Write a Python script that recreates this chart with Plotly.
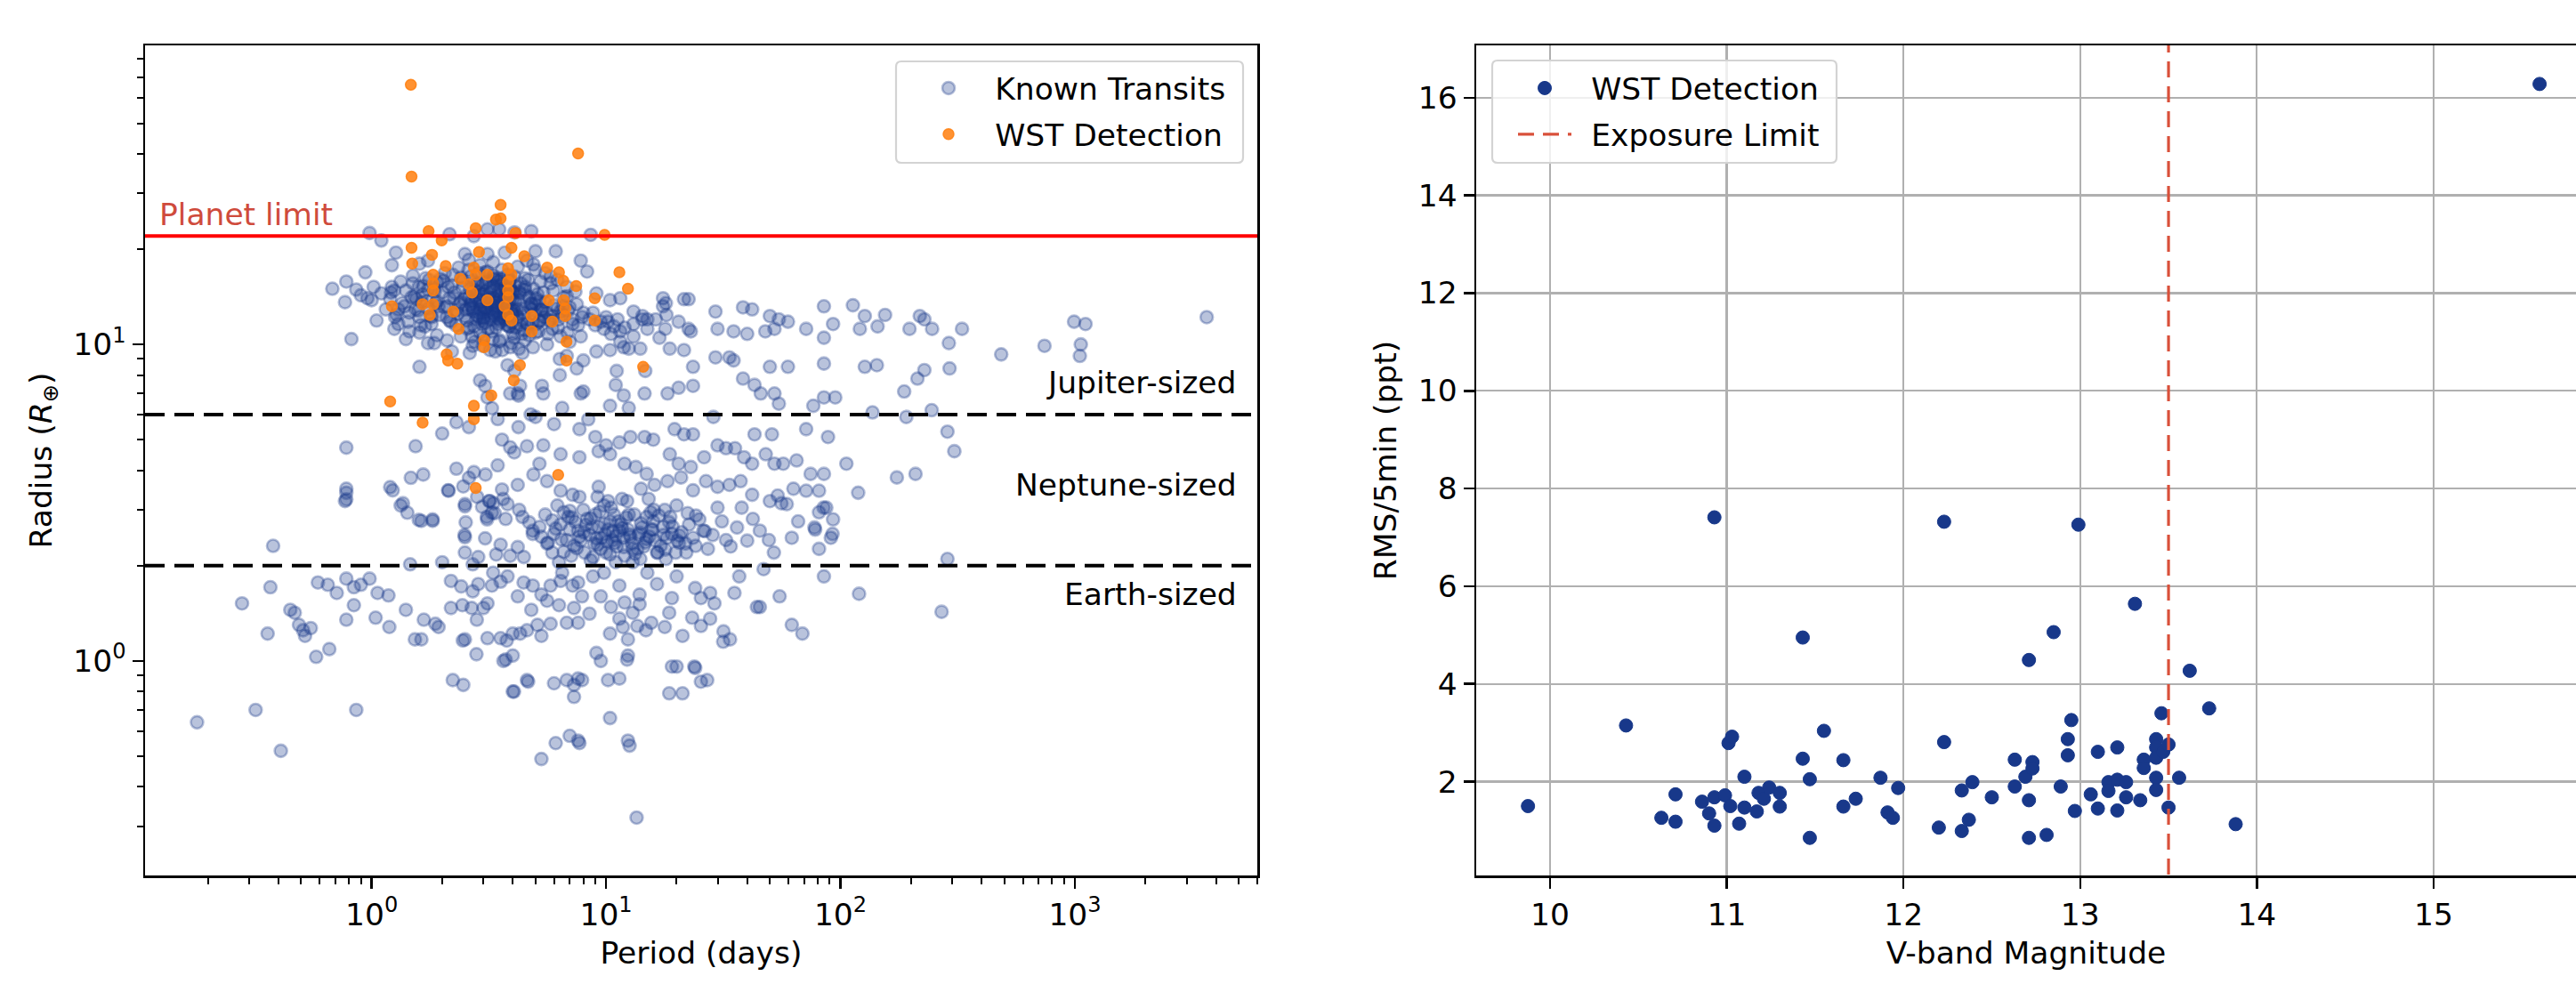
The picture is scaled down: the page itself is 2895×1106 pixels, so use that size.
import math
import plotly.graph_objects as go

# ---------------- DATA ----------------
# Left panel: known transiting planets, grouped by region of the diagram
known_period_small = [0.18,0.32,0.41,0.86,0.28,0.37,0.36,0.38,
    0.45,0.47,0.49,0.52,0.55,0.51,0.58,0.66,
    0.59,0.65,0.71,0.78,0.84,0.90,0.98,1.06,1.18,
    0.84,0.78,1.04,1.19,1.40,1.53,1.63,1.93,1.67,1.87,
    2.18,2.41,2.70,2.85,3.12,2.18,2.44,2.67,2.81,3.00,
    2.50,2.80,2.45,2.22,2.46,
    3.12,3.55,3.77,4.00,4.30,4.60,5.30,5.10,5.60,5.80,6.80,7.30,7.60,
    3.73,4.00,3.65,
    4.00,4.60,6.00,6.80,7.30,7.90,7.30,7.60,
    10.2,11.4,12.4,12.4,10.4,9.5,9.1,8.5,
    10.4,6.1,7.0,7.6,12.4,5.3,13.5,
    11.4,13.6,14.8,17.8,21.2,23.3,25.4,27.8,31.7,33.8,45.3,68.8,
    19.1,23.8,25.4,27.0,18.6,21.2,
    12.0,13.0,15.6,18.6,19.1,25.4,27.8,35.3,
    13.9,13.9,11.4,9.5,7.9,7.6,7.2,6.4,5.8,4.87,4.45,3.55,3.26,
    120,270,4.05,4.65,7.7,12.6,12.3,20.0,24,31.6,44,
    3.3,3.8,4.2,4.8,5.3,6.3,6.5,8.8,9.8,10.5,11.8,15,16.5,20,24,29,37,47,55,62,85]
known_radius_small = [0.64,0.70,0.52,0.70,1.52,1.71,1.22,2.31,
    1.45,1.42,1.30,1.20,1.27,1.25,1.03,1.09,
    1.77,1.74,1.64,1.82,1.71,1.74,1.82,1.64,1.61,
    1.50,1.35,1.37,1.28,1.45,1.17,1.17,1.28,1.35,1.31,
    1.79,1.72,1.66,1.75,1.52,1.47,1.50,1.47,1.35,1.47,
    1.17,1.05,1.16,0.87,0.84,
    1.18,1.18,1.16,1.22,1.22,1.25,1.20,1.30,1.55,1.31,1.32,1.47,1.32,
    1.01,1.04,1.00,
    0.80,0.87,0.85,0.87,0.84,0.87,0.77,0.88,
    0.87,0.88,1.17,1.04,1.22,1.00,1.06,1.41,
    0.66,0.55,0.58,0.56,0.56,0.49,0.32,
    1.36,1.29,1.25,1.28,1.20,1.37,1.29,1.36,1.24,1.17,1.48,1.22,
    0.96,0.96,0.86,0.87,0.79,0.79,
    1.53,1.42,1.32,1.42,1.58,1.58,1.64,1.64,
    1.62,1.51,1.73,1.60,1.60,1.77,1.73,1.79,1.73,1.73,1.77,1.78,1.73,
    1.63,1.43,0.80,0.86,0.55,0.54,1.01,0.96,0.95,1.15,1.48,
    1.90,1.85,1.60,1.45,1.62,1.50,1.90,1.85,1.90,1.48,1.28,1.90,1.75,1.85,1.70,1.52,1.85,1.95,1.60,1.30,1.85]

known_period_subnep_short = [0.78,0.78,0.78,1.2,1.23,1.36,1.42,1.63,1.82,1.66,2.12,2.5,2.82,3.26,3.31,
    2.0,2.3,2.6,3.26,3.45,4.23,4.77,3.6,3.9,4.23,
    2.3,2.6,3.06,3.45,4.06,4.6,1.54,1.47,
    2.13,2.46,2.73,3.17,3.6,4.2,4.9,3.35,2.96,2.52,2.49,3.1,3.8,4.4,
    0.77,0.78,1.33,1.59,1.82,
    2.5,3.19,3.64,4.26,2.5,3.05,3.11,3.55,3.73,4.2,4.7,4.87,
    2.5,2.85,3.4,3.9,4.46,1.46,2.0,2.7]
known_radius_subnep_short = [4.72,3.5,3.24,3.54,3.46,3.15,2.94,2.77,2.77,3.88,3.46,3.08,3.3,2.94,3.15,
    5.23,5.68,5.48,6.29,5.81,6.89,6.01,5.0,4.73,5.48,
    4.05,3.79,3.88,4.15,4.56,4.77,4.77,3.79,
    3.45,3.56,3.95,3.2,3.48,3.6,3.88,2.93,3.07,2.74,2.5,2.85,3.13,2.85,
    3.2,3.4,3.1,2.79,2.8,
    3.13,3.2,3.25,3.0,2.46,2.44,2.8,2.33,2.81,2.29,2.74,2.52,
    2.2,2.13,2.17,2.15,2.13,2.02,2.05,2.02]

known_period_subnep_cluster = [4.87,5.3,5.65,6.0,6.4,6.8,7.3,7.6,8.3,8.7,9.1,9.5,9.9,10.4,10.9,11.4,12.2,12.7,13.6,14.2,
    15.3,15.9,17.1,17.8,19.1,20.5,22.6,24.2,26.0,27.2,29.9,31.2,32.5,36.2,37.9,42.3,45.3,49.5,54,59,66,77.5,81,92.5,84.7,
    5.5,5.9,6.2,6.6,7.0,7.1,7.4,7.8,8.0,8.1,8.5,8.9,9.0,9.3,9.6,9.8,10.0,10.2,10.6,10.8,
    11.1,11.6,11.9,12.0,12.4,12.9,13.2,13.8,14.5,14.9,15.6,16.2,16.6,17.5,18.2,18.8,19.8,21.0,21.8,23.5,
    25.0,6.3,8.6,11.0,14.0,18.0,9.2,7.2,12.3,15.2,20.0,5.2,6.9,10.5,13.0,16.0,22.0,28.5,34,40,52,62]
known_radius_subnep_cluster = [2.58,2.47,2.36,2.52,2.7,2.41,2.31,2.58,2.81,2.64,2.44,2.26,2.52,2.76,2.36,2.58,2.84,2.47,2.26,2.64,
    2.47,2.76,2.31,3.0,2.52,2.36,2.7,2.88,2.58,2.26,3.05,2.76,2.41,2.64,3.05,2.81,2.58,2.41,3.33,3.13,2.76,2.64,2.26,2.52,3.05,
    2.9,2.2,3.1,2.95,2.6,2.15,2.75,2.4,3.0,2.2,2.5,2.35,2.9,2.65,2.45,3.1,2.2,2.6,2.4,2.9,
    2.3,2.7,2.45,2.15,2.6,2.35,2.9,2.5,2.3,2.85,2.6,2.4,2.2,2.65,2.45,2.85,2.2,2.55,2.35,2.45,
    2.8,2.05,2.08,2.05,2.1,2.1,3.3,3.35,3.2,3.25,3.1,2.65,2.85,3.05,2.05,3.0,2.2,2.5,2.3,2.4,2.2,2.45]

known_period_subnep_core = [5.6,6.1,6.6,7.15,7.7,8.2,8.8,9.4,10.1,10.7,11.3,11.9,12.6,13.3,14.1,14.9,15.8,16.8,17.9,19.2,
    20.6,22.3,24.1,26.4,5.9,6.45,7.0,7.5,8.05,8.6,9.2,9.85,10.4,11.0,11.7,12.5,13.0,13.9,14.7,15.5,16.5,17.6,18.6,20.1]
known_radius_subnep_core = [2.35,2.62,2.21,2.84,2.47,2.69,2.13,2.96,2.38,2.57,2.76,2.29,2.51,2.18,2.72,2.43,2.6,2.88,2.25,2.66,
    2.49,2.93,2.31,2.57,2.78,2.42,2.98,2.27,2.55,2.82,2.33,2.71,2.17,2.48,2.63,2.9,2.26,2.54,2.37,2.95,2.2,2.5,2.74,2.4]

known_period_neptune = [7.7,9.0,10.0,11.4,12.7,14.6,15.9,19.6,21.5,23.5,43,51,71.4,88.5,
    5.4,6.4,7.7,9.3,10.4,12.0,13.4,14.9,18.7,20.4,23.0,26.2,29.9,32.5,35.5,38.8,42,48,52.3,57,65,74.6,85,106,
    174,209,119,306,
    5.6,6.4,7.7,9.3,10.2,11.7,14.1,16.1,18.3,20.9,23.5,26.7,29.9,33.6,37.5,42,50,56,63,71.4,81,87,81,93,78,91,286,
    5.0,6.0,8.4,5.2]
known_radius_neptune = [5.4,5.1,4.8,4.9,5.1,5.1,5.0,5.4,5.2,5.2,5.2,5.2,5.4,5.1,
    4.8,4.5,4.4,4.6,4.5,4.2,4.1,3.9,4.5,4.2,4.1,4.4,4.8,4.7,4.7,4.4,4.2,4.5,4.2,4.2,4.3,3.9,3.9,4.2,
    3.8,3.9,3.4,4.6,
    3.7,3.45,3.3,3.55,3.2,3.25,3.5,3.6,3.7,3.8,3.46,3.7,3.55,3.6,3.7,3.35,3.2,3.15,3.5,3.45,3.45,3.05,2.95,2.8,2.6,2.45,2.1,
    5.9,5.6,5.8,4.2]

known_period_giant_long = [18.0,21.5,22.5,29.3,38.4,42,50,54.6,59.7,85,113,127,155,218,228,992,1110,3650,
    14.3,16.3,20.4,17.9,22.5,23.0,29.9,35,40,47.8,52.3,71.4,85,93,121,144,197,246,330,290,
    485,742,1060,1050,
    12.5,14.0,18.7,21.5,23.5,29.3,33.6,35,50,59.7,85,127,143,213,228,292,
    38.4,43,45.7,52.3,54.6,76.6,85,95,137,187,191,245,286,
    11.0,14.6,18.3,20.4,23.5,28.7,12.5,10.4,7.8,6.5,5.4,
    9.1,10.4,11.5,13.1,15.0,17.5,17.5,18.1,14.3,13.1,11.5,10.2,11.5,13.1,15.0,16.9,
    3.8,4.07,2.9,3.05,3.12,3.9,4.3,5.33,6.35,6.8,7.5,8.0,9.1,10.4,11.9,4.2,6.35,8.0,11.9,14.7,11.1,
    8.5,9.0,9.5,10.0,10.8,11.2,12.0,9.8,10.5,8.8]
known_radius_giant_long = [13.5,13.9,13.9,12.7,13.1,12.9,12.3,12.0,11.8,13.2,13.3,12.3,12.4,12.3,12.0,11.8,11.6,12.2,
    12.0,12.0,11.8,11.2,11.2,11.0,11.2,11.0,10.8,11.0,11.2,11.2,10.5,11.6,11.2,11.4,11.2,11.2,11.2,10.1,
    9.3,9.9,10.0,9.2,
    9.7,9.7,9.7,9.6,8.5,9.1,9.1,8.9,8.5,8.5,8.7,8.5,8.6,7.8,8.3,8.4,
    7.8,7.45,7.0,7.0,6.5,6.4,6.8,6.8,6.1,7.1,5.9,6.2,5.3,
    7.45,7.0,7.0,7.3,7.4,5.9,6.3,6.4,7.0,6.3,7.0,
    14.5,13.8,14.0,12.7,12.0,14.0,13.2,12.4,12.3,11.6,11.0,11.8,10.2,10.6,11.2,10.5,
    8.6,8.25,7.7,7.4,6.8,7.0,7.4,7.4,9.0,9.2,8.4,8.9,9.5,9.6,9.8,7.0,8.0,7.1,6.9,8.25,8.25,
    12.0,11.5,11.8,12.2,11.4,12.0,11.3,11.2,10.8,12.6]

known_period_hotjup = [0.98,1.1,1.27,1.22,0.94,0.78,0.86,0.96,1.02,0.68,0.77,0.82,1.6,1.74,1.85,1.4,1.22,1.26,1.3,1.5,
    1.6,1.74,2.15,2.73,3.12,3.5,4.07,4.8,6.1,8.6,7.8,8.3,2.5,3.12,3.7,5.0,4.9,
    1.35,1.4,1.45,1.5,1.55,1.6,1.65,1.7,1.75,1.8,1.85,1.9,1.95,2.0,2.05,2.1,2.15,2.2,2.25,2.3,
    2.35,2.4,2.45,2.5,2.55,2.6,2.65,2.7,2.75,2.8,2.85,2.9,2.95,3.0,3.05,3.1,3.15,3.2,3.25,3.3,
    3.35,3.4,3.45,3.5,3.55,3.6,3.65,3.7,3.75,3.8,3.85,3.9,3.95,4.0,4.1,4.2,4.3,4.4,4.5,4.6,
    4.7,4.8,4.9,5.0,5.2,5.4,5.6,5.8,6.0,6.3,6.6,6.9,7.2,7.5,7.9,
    2.9,3.3,3.6,4.2,2.6,4.6,3.0,3.5,4.0,2.4,4.5,5.0,3.2,3.9,2.7,4.4,5.6,
    3.1,3.4,3.7,4.1,3.3,3.8,2.9,4.3,3.5,3.0,3.6,4.0,3.2,2.8,4.5,3.9,3.4,4.8,2.6,5.3,
    1.0,1.1,1.15,1.2,1.25,1.3,0.9,1.05,1.25,1.45,1.6,1.9,2.1,2.2,5.9,6.4,7.0,5.5,6.2,6.8,7.4,5.0]
known_radius_hotjup = [22.5,21.3,19.5,17.8,16.9,15.8,14.9,14.0,15.2,15.0,13.6,10.4,8.5,10.1,10.1,10.4,15.2,12.2,11.6,16.5,
    18.0,18.4,22.3,22.0,23.1,23.1,22.6,22.8,19.7,22.2,18.4,17.0,19.3,19.3,19.5,19.7,17.9,
    13.5,14.8,12.6,15.6,13.9,12.2,14.4,16.2,13.0,11.6,15.0,13.7,12.4,14.6,16.8,13.2,11.9,15.4,14.0,12.8,
    17.5,13.6,15.9,12.3,14.3,11.3,16.4,13.1,14.9,12.0,15.6,13.8,11.6,14.4,16.9,12.7,13.5,15.1,11.0,14.0,
    12.4,16.0,13.2,14.7,11.8,15.5,12.9,14.2,13.6,16.6,11.4,14.9,12.6,13.9,15.3,12.2,14.5,13.0,16.2,11.7,
    14.1,12.9,15.0,13.4,11.9,14.6,12.6,15.6,13.3,12.0,14.1,12.8,11.6,13.4,12.2,
    17.8,18.2,17.2,17.6,18.5,18.4,10.5,10.2,10.8,10.6,10.3,10.9,9.6,9.8,9.9,9.4,10.0,
    13.0,13.9,12.5,13.6,15.3,14.6,12.9,11.5,12.0,12.2,13.4,12.4,14.6,14.0,14.9,16.0,11.3,13.5,13.0,12.9,
    13.8,14.5,12.9,13.9,14.8,12.9,14.3,11.9,11.2,11.0,10.9,10.7,10.3,9.5,11.2,10.6,10.2,16.8,16.0,15.2,14.7,17.2]

known_period_hotjup_core = [2.05,2.12,2.18,2.26,2.33,2.41,2.48,2.56,2.63,2.71,2.78,2.86,2.93,3.01,3.08,3.16,3.24,3.31,3.39,3.47,
    3.54,3.62,3.70,3.78,3.86,3.94,4.03,4.12,4.22,4.33,4.45,4.58,4.72,4.86,5.02,
    2.02,2.09,2.15,2.22,2.29,2.37,2.44,2.52,2.59,2.67,2.74,2.82,2.89,2.97,3.05,3.12,3.2,3.28,3.35,3.43,
    3.51,3.58,3.66,3.74,3.82,3.9,3.98,4.07,4.17,4.27,4.39,4.51,4.65,4.79,4.95,
    2.6,2.7,2.8,2.9,3.0,3.1,3.2,3.3,3.4,3.5,3.6,3.7,3.8,3.9,4.0,2.65,2.75,2.85,2.95,3.05,
    3.15,3.25,3.35,3.45,3.55,3.65,3.75,3.85,3.95,4.05,
    1.52,1.58,1.66,1.72,1.79,1.86,1.93,1.62,1.76,1.9,5.1,5.3,5.5,5.7,5.95,6.2,6.5,6.8,5.25,5.8]
known_radius_hotjup_core = [13.1,15.2,11.8,14.6,12.5,16.3,13.9,11.2,15.0,12.7,14.2,16.8,13.3,11.9,15.7,14.0,12.3,16.5,13.6,11.6,
    15.3,14.8,12.0,13.3,15.9,12.8,14.5,11.3,13.8,15.6,12.6,14.3,13.1,11.8,14.0,
    15.9,12.2,14.0,16.6,11.5,13.4,15.1,12.9,17.2,13.7,11.4,14.7,12.1,15.4,13.0,17.0,14.4,12.6,13.2,15.8,
    12.4,16.1,13.8,14.9,12.3,15.1,11.7,16.4,12.9,14.7,11.9,15.2,16.0,13.4,12.5,
    14.1,12.9,15.5,13.6,12.1,14.8,13.3,16.1,12.7,14.3,13.7,15.2,12.4,13.9,14.6,13.4,15.8,12.6,14.4,13.1,
    15.9,12.9,13.6,16.2,14.0,12.2,15.0,13.5,14.7,12.8,
    14.2,12.8,15.3,13.7,12.3,14.7,13.2,11.5,16.0,15.7,14.4,12.8,13.6,11.9,14.8,13.0,12.4,14.2,15.8,16.4]

known_period_hotjup_lower = [2.55,2.68,2.83,2.98,3.14,3.29,3.44,3.61,3.79,3.97,4.16,4.38,4.61,4.88,5.15,5.45,2.62,2.9,3.22,3.53,
    3.88,4.25,4.7,5.2,2.75,3.05,3.37,3.7,4.05,4.5,
    1.21,1.28,1.33,1.38,1.43,1.48,1.54,1.59,1.64,1.69,1.74,1.81,1.88,1.96,
    5.05,5.35,5.65,5.95,6.25,6.55,6.85,7.2,7.6,8.0,5.2,5.8,6.4,7.0,7.8]
known_radius_hotjup_lower = [11.9,10.6,12.3,9.9,11.2,10.4,12.1,9.6,11.5,10.1,12.4,10.8,11.6,9.8,11.0,12.2,9.4,10.9,12.0,10.3,
    11.4,9.7,10.7,11.8,10.2,11.7,9.5,12.4,10.5,11.1,
    14.6,12.4,15.8,13.2,11.8,14.1,12.9,15.2,13.6,11.4,14.9,12.2,13.5,16.1,
    11.6,12.9,10.8,12.3,11.3,13.2,10.9,12.0,11.5,12.6,13.7,11.9,12.7,13.1,10.6]

# Left panel: WST detections
wst_period = [1.47,1.48,7.6,3.55,3.39,3.55,2.78,1.75,1.99,4.11,
    9.86,1.48,1.81,2.87,3.95,4.48,1.49,2.07,2.73,2.78,
    3.12,3.82,3.95,3.82,3.82,3.82,5.61,6.3,6.57,7.46,
    11.4,12.4,1.83,1.83,2.39,2.6,2.68,1.83,1.65,1.83,
    1.22,1.77,2.23,3.12,3.69,3.82,3.95,4.82,5.7,5.9,
    6.6,6.7,6.7,8.95,8.95,2.35,4.82,3.02,3.02,6.78,
    2.09,2.12,2.32,4.29,6.78,4.04,14.4,3.24,1.2,2.73,
    2.73,1.65,6.25,2.78]
wst_radius = [66.2,33.9,40.1,27.6,24.8,25.0,23.3,22.8,21.3,22.5,
    22.2,20.2,19.2,19.6,20.2,19.0,18.0,17.7,17.5,16.6,
    16.6,17.4,16.6,15.8,14.8,14.1,17.5,16.9,15.9,15.3,
    16.9,15.0,16.6,15.6,16.1,15.5,14.6,14.8,13.4,13.4,
    13.2,12.4,12.7,13.8,13.2,12.4,11.9,12.3,13.8,11.8,
    13.8,13.0,12.3,14.0,11.9,11.2,11.0,10.3,9.8,10.2,
    9.3,8.9,8.7,8.6,8.9,7.7,8.5,6.9,6.6,6.4,
    5.8,5.66,3.87,3.52]

# Reference levels (Earth radii)
planet_limit = 22.0
jupiter_boundary = 6.0
earth_boundary = 2.0

# Right panel: WST detections, V magnitude vs RMS per 5 min
wst_vmag = [9.875,10.43,10.63,10.71,10.71,10.86,10.90,10.93,10.93,10.93,
    10.99,11.01,11.03,11.02,11.07,11.10,11.10,11.17,11.18,11.21,
    11.24,11.30,11.30,11.43,11.43,11.47,11.47,11.55,11.66,11.66,
    11.73,11.87,11.91,11.94,11.97,12.20,12.23,12.23,12.33,12.33,
    12.37,12.39,12.50,12.63,12.63,12.69,12.71,12.71,12.71,12.73,
    12.73,12.81,12.85,12.89,12.93,12.93,12.95,12.97,12.99,13.06,
    13.10,13.10,13.16,13.16,13.21,13.21,13.21,13.26,13.26,13.31,
    13.34,13.36,13.36,13.43,13.43,13.43,13.43,13.43,13.46,13.47,
    13.50,13.50,13.56,13.62,13.73,13.88,15.60]
wst_rms = [1.50,3.15,1.26,1.74,1.18,1.59,1.35,7.41,1.68,1.10,
    1.72,2.79,2.92,1.50,1.14,2.10,1.47,1.39,1.77,1.65,
    1.88,1.77,1.49,4.95,2.47,2.05,0.85,3.04,2.44,1.49,
    1.65,2.08,1.37,1.26,1.87,1.06,7.32,2.81,1.82,0.99,
    1.22,1.99,1.68,2.45,1.90,2.10,4.49,1.62,0.85,2.40,
    2.27,0.91,5.06,1.90,2.87,2.54,3.26,1.40,7.26,1.74,
    1.45,2.61,1.99,1.81,2.70,2.04,1.41,1.99,1.68,5.64,
    1.62,2.45,2.28,2.87,2.70,2.49,2.08,1.83,3.40,2.61,
    2.76,1.47,2.08,4.27,3.50,1.13,16.28]
exposure_limit = 13.5

# ---------------- FIGURE ----------------
period_groups = [known_period_small, known_period_subnep_short, known_period_subnep_cluster,
                 known_period_subnep_core, known_period_neptune, known_period_giant_long,
                 known_period_hotjup, known_period_hotjup_core, known_period_hotjup_lower]
radius_groups = [known_radius_small, known_radius_subnep_short, known_radius_subnep_cluster,
                 known_radius_subnep_core, known_radius_neptune, known_radius_giant_long,
                 known_radius_hotjup, known_radius_hotjup_core, known_radius_hotjup_lower]
known_period, known_radius = [], []
for pg, rg in zip(period_groups, radius_groups):
    for p, r in zip(pg, rg):
        known_period.append(p)
        known_radius.append(r)

W, H = 2895, 1106
FONT = "DejaVu Sans"
FS = 34.5
NAVY = "rgb(24,56,138)"
PAD = "\u2002"
ITEMW = 60

def px_dom_x(a, b):
    return [a / W, min(b / W, 1.0)]

def px_dom_y(top, bottom):
    return [1 - bottom / H, 1 - top / H]

def rounded_box(x0, x1, top, bottom, r=6):
    """Rounded rectangle path in paper coordinates from pixel box."""
    X0, X1 = x0 / W, x1 / W
    Y0, Y1 = 1 - bottom / H, 1 - top / H
    rx, ry = r / W, r / H
    return (f"M {X0+rx},{Y1} L {X1-rx},{Y1} Q {X1},{Y1} {X1},{Y1-ry} "
            f"L {X1},{Y0+ry} Q {X1},{Y0} {X1-rx},{Y0} L {X0+rx},{Y0} "
            f"Q {X0},{Y0} {X0},{Y0+ry} L {X0},{Y1-ry} Q {X0},{Y1} {X0+rx},{Y1} Z")

fig = go.Figure()

fig.add_trace(go.Scatter(
    x=known_period, y=known_radius, mode="markers", name=PAD + "Known Transits",
    xaxis="x", yaxis="y", legend="legend", legendgroup="a",
    marker=dict(size=14, color="rgba(24,56,138,0.30)",
                line=dict(color="rgba(24,56,138,0.32)", width=2.6)),
))
fig.add_trace(go.Scatter(
    x=wst_period, y=wst_radius, mode="markers", name=PAD + "WST Detection",
    xaxis="x", yaxis="y", legend="legend", legendgroup="b",
    marker=dict(size=12, color="rgba(255,127,14,0.85)",
                line=dict(color="rgba(255,127,14,0.85)", width=1.5)),
))

fig.add_trace(go.Scatter(
    x=wst_vmag, y=wst_rms, mode="markers", name=PAD + "WST Detection",
    xaxis="x2", yaxis="y2", legend="legend2", legendgroup="c",
    marker=dict(size=15, color=NAVY, line=dict(color=NAVY, width=1)),
))
y2_range = [0.08, 17.07]
fig.add_trace(go.Scatter(
    x=[exposure_limit, exposure_limit], y=[y2_range[0] - 1, y2_range[1] + 1],
    mode="lines", name=PAD + "Exposure Limit",
    xaxis="x2", yaxis="y2", legend="legend2", legendgroup="d",
    line=dict(color="#d9503a", width=3.2, dash="18px,10px"),
))

# horizontal reference lines (left)
fig.add_shape(type="line", xref="x domain", yref="y", x0=0, x1=1,
              y0=planet_limit, y1=planet_limit, line=dict(color="#ff0000", width=4))
for lvl in (jupiter_boundary, earth_boundary):
    fig.add_shape(type="line", xref="x domain", yref="y", x0=0, x1=1,
                  y0=lvl, y1=lvl, line=dict(color="black", width=4, dash="22px,11px"))

# legend frames (rounded, semi-transparent like matplotlib)
fig.add_shape(type="path", xref="paper", yref="paper", layer="above",
              path=rounded_box(1007, 1397, 69, 183),
              fillcolor="rgba(255,255,255,0.8)", line=dict(color="#d3d3d3", width=2.2))
fig.add_shape(type="path", xref="paper", yref="paper", layer="above",
              path=rounded_box(1677, 2064, 68, 183),
              fillcolor="rgba(255,255,255,0.8)", line=dict(color="#d3d3d3", width=2.2))

# annotations (left)
fig.add_annotation(xref="x domain", yref="y", x=0.011, y=math.log10(planet_limit),
                   text="Planet limit", showarrow=False, xanchor="left", yanchor="bottom",
                   yshift=2, font=dict(family=FONT, size=FS, color="#cf4b3c"))
fig.add_annotation(xref="x domain", yref="y", x=0.983, y=math.log10(jupiter_boundary),
                   text="Jupiter-sized", showarrow=False, xanchor="right", yanchor="bottom",
                   yshift=14, font=dict(family=FONT, size=FS, color="black"))
fig.add_annotation(xref="x domain", yref="y", x=0.983, y=math.log10(3.6),
                   text="Neptune-sized", showarrow=False, xanchor="right", yanchor="middle",
                   font=dict(family=FONT, size=FS, color="black"))
fig.add_annotation(xref="x domain", yref="y", x=0.983, y=math.log10(earth_boundary),
                   text="Earth-sized", showarrow=False, xanchor="right", yanchor="top",
                   yshift=-10, font=dict(family=FONT, size=FS, color="black"))

x_major = [1, 10, 100, 1000]
x_major_text = ["10<sup>0</sup>", "10<sup>1</sup>", "10<sup>2</sup>", "10<sup>3</sup>"]
y_major = [1, 10]
y_major_text = ["10<sup>0</sup>", "10<sup>1</sup>"]
x_minor = [m * 10 ** e for e in range(-1, 4) for m in range(2, 10)]
y_minor = [m * 10 ** e for e in range(-1, 2) for m in range(2, 10)]

axis_common = dict(showline=True, linecolor="black", linewidth=2.5, ticks="outside",
                   ticklen=12, tickwidth=2.5, tickcolor="black", zeroline=False,
                   tickfont=dict(family=FONT, size=FS, color="black"),
                   title_font=dict(family=FONT, size=FS, color="black"))

L_x0, L_x1, TOP, BOT = 163, 1413, 51, 984
R_x0 = 1659

legend_common = dict(yanchor="top", xanchor="left", bgcolor="rgba(0,0,0,0)", borderwidth=0,
                     font=dict(family=FONT, size=FS, color="black"), tracegroupgap=4,
                     itemwidth=ITEMW)

fig.update_layout(
    width=W, height=H, margin=dict(l=0, r=0, t=0, b=0),
    paper_bgcolor="white", plot_bgcolor="white",
    font=dict(family=FONT, size=FS, color="black"),
    xaxis=dict(type="log", domain=px_dom_x(L_x0, L_x1), anchor="y",
               range=[math.log10(0.108), math.log10(6000)], mirror=True, showgrid=False,
               tickmode="array", tickvals=x_major, ticktext=x_major_text,
               minor=dict(tickvals=x_minor, ticks="outside", ticklen=7, tickwidth=2,
                          tickcolor="black", showgrid=False),
               title=dict(text="Period (days)", standoff=12), **axis_common),
    yaxis=dict(type="log", domain=px_dom_y(TOP, BOT), anchor="x",
               range=[math.log10(0.21), math.log10(88.1)], mirror=True, showgrid=False,
               tickmode="array", tickvals=y_major, ticktext=y_major_text,
               minor=dict(tickvals=y_minor, ticks="outside", ticklen=7, tickwidth=2,
                          tickcolor="black", showgrid=False),
               title=dict(text="Radius (<i>R</i><sub>⊕</sub>)", standoff=14), **axis_common),
    xaxis2=dict(domain=px_dom_x(R_x0, W), anchor="y2", range=[9.582, 15.806],
                mirror=True, showgrid=True, gridcolor="#b0b0b0", gridwidth=2.2,
                dtick=1, tick0=0,
                title=dict(text="V-band Magnitude", standoff=12), **axis_common),
    yaxis2=dict(domain=px_dom_y(TOP, BOT), anchor="x2", range=y2_range,
                mirror=False, showgrid=True, gridcolor="#b0b0b0", gridwidth=2.2,
                dtick=2, tick0=0,
                title=dict(text="RMS/5min (ppt)", standoff=14), **axis_common),
    legend=dict(x=(1057 - (ITEMW - 34)) / W, y=1 - 70 / H, **legend_common),
    legend2=dict(x=(1727 - (ITEMW - 34)) / W, y=1 - 70 / H, **legend_common),
)

fig.write_html("out.html", config={"displayModeBar": False, "staticPlot": True},
               post_script="document.body.style.margin='0';document.body.style.padding='0';")
